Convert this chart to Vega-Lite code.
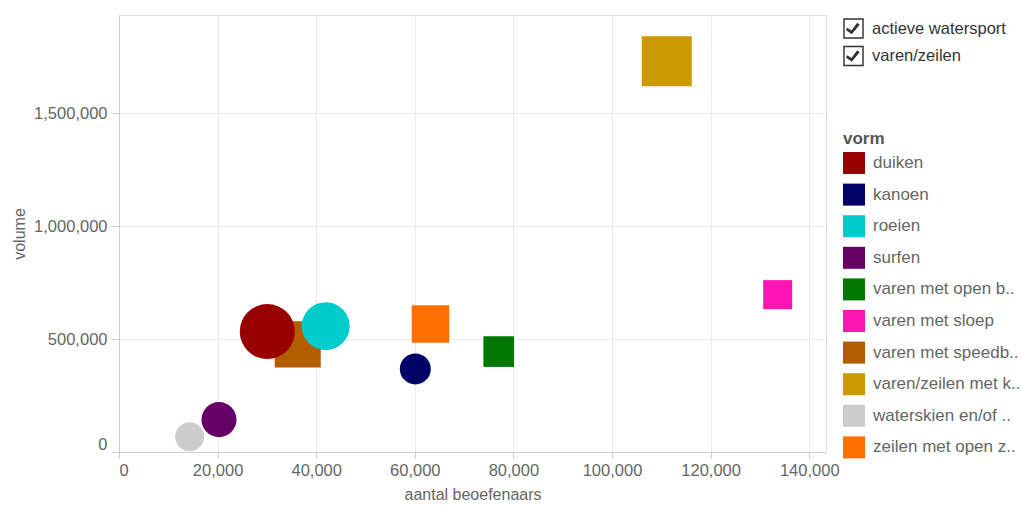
{
  "$schema": "https://vega.github.io/schema/vega-lite/v6.json",
  "width": 707,
  "height": 437,
  "autosize": {"type": "none"},
  "padding": {"left": 119, "top": 15, "right": 196, "bottom": 53},
  "background": "white",
  "config": {
    "font": "Liberation Sans",
    "view": {"stroke": "#dddddd"},
    "axis": {
      "gridColor": "#ebebeb",
      "domainColor": "#cccccc",
      "tickColor": "#cccccc",
      "labelColor": "#666666",
      "labelFontSize": 16.5,
      "titleColor": "#666666",
      "titleFontSize": 16,
      "titleFontWeight": "normal",
      "labelFlush": true,
      "labelOverlap": false
    }
  },
  "data": {
    "values": [
      {"vorm": "varen/zeilen met k..", "soort": "varen/zeilen", "beoefenaars": 111100, "volume": 1730000, "omvang": 250},
      {"vorm": "varen met sloep", "soort": "varen/zeilen", "beoefenaars": 133600, "volume": 696800, "omvang": 84},
      {"vorm": "zeilen met open z..", "soort": "varen/zeilen", "beoefenaars": 63180, "volume": 566500, "omvang": 141},
      {"vorm": "varen met open b..", "soort": "varen/zeilen", "beoefenaars": 77020, "volume": 444600, "omvang": 94},
      {"vorm": "varen met speedb..", "soort": "varen/zeilen", "beoefenaars": 36250, "volume": 476500, "omvang": 212},
      {"vorm": "duiken", "soort": "actieve watersport", "beoefenaars": 30080, "volume": 533200, "omvang": 303},
      {"vorm": "roeien", "soort": "actieve watersport", "beoefenaars": 41930, "volume": 557200, "omvang": 230},
      {"vorm": "kanoen", "soort": "actieve watersport", "beoefenaars": 60100, "volume": 367900, "omvang": 96},
      {"vorm": "surfen", "soort": "actieve watersport", "beoefenaars": 20280, "volume": 143200, "omvang": 123},
      {"vorm": "waterskien en/of ..", "soort": "actieve watersport", "beoefenaars": 14340, "volume": 67800, "omvang": 84}
    ]
  },
  "mark": {"type": "point", "filled": true},
  "encoding": {
    "x": {
      "field": "beoefenaars",
      "type": "quantitative",
      "title": "aantal beoefenaars",
      "scale": {"domain": [0, 143400], "nice": false, "zero": true},
      "axis": {"values": [0, 20000, 40000, 60000, 80000, 100000, 120000, 140000], "labelExpr": "format(datum.value, ',.0f')", "tickSize": 6, "labelPadding": 4, "titlePadding": 8}
    },
    "y": {
      "field": "volume",
      "type": "quantitative",
      "title": "volume",
      "scale": {"domain": [0, 1935000], "nice": false, "zero": true},
      "axis": {"values": [0, 500000, 1000000, 1500000], "labelExpr": "format(datum.value, ',.0f')", "tickSize": 8, "labelPadding": 4, "titlePadding": 6}
    },
    "color": {
      "field": "vorm",
      "type": "nominal",
      "scale": {
        "domain": ["duiken", "kanoen", "roeien", "surfen", "varen met open b..", "varen met sloep", "varen met speedb..", "varen/zeilen met k..", "waterskien en/of ..", "zeilen met open z.."],
        "range": ["#990000", "#000066", "#00CCCC", "#660066", "#007700", "#FF14B4", "#B35C00", "#CC9900", "#CCCCCC", "#FF7000"]
      },
      "legend": {
        "orient": "none",
        "legendX": 724,
        "legendY": 116,
        "title": "vorm",
        "padding": 0,
        "titleFontSize": 17,
        "titleFontWeight": "bold",
        "titleColor": "#555555",
        "titlePadding": 4,
        "labelFontSize": 17,
        "labelColor": "#666666",
        "labelOffset": 8,
        "labelLimit": 300,
        "rowPadding": 9.6,
        "symbolType": "square",
        "symbolSize": 484,
        "symbolStrokeWidth": 0,
        "symbolOpacity": 1,
        "encode": {
          "symbols": {"update": {"shape": {"value": "square"}, "opacity": {"value": 1}}}
        }
      }
    },
    "shape": {
      "field": "soort",
      "type": "nominal",
      "scale": {"range": ["circle", "square"]},
      "legend": null
    },
    "opacity": {
      "field": "soort",
      "type": "ordinal",
      "scale": {"domain": ["actieve watersport", "varen/zeilen"], "range": [1, 1]},
      "legend": {
        "orient": "none",
        "legendX": 724,
        "legendY": 3,
        "title": null,
        "padding": 0,
        "labelFontSize": 16.5,
        "labelColor": "#333333",
        "labelOffset": 8,
        "rowPadding": 6.5,
        "symbolSize": 420,
        "symbolType": "M-1,-1H1V1H-1Z M-0.86,-0.86V0.86H0.86V-0.86Z M-0.62,-0.08L-0.2,0.2L0.36,-0.56L0.6,-0.36L-0.17,0.56L-0.74,0.14Z",
        "symbolFillColor": "#333333",
        "symbolStrokeColor": "transparent",
        "symbolStrokeWidth": 0,
        "symbolOpacity": 1
      }
    },
    "size": {
      "field": "omvang",
      "type": "quantitative",
      "scale": {"domain": [0, 300], "range": [0, 3000]},
      "legend": null
    }
  }
}
